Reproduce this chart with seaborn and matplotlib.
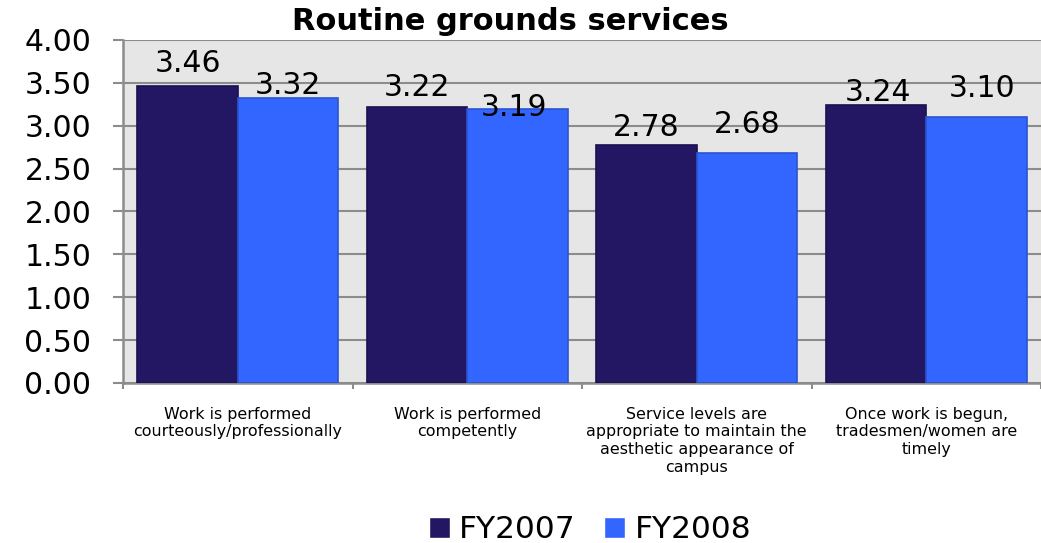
import matplotlib
matplotlib.use("Agg")
import matplotlib.pyplot as plt
import seaborn as sns
import pandas as pd
from matplotlib.ticker import FixedLocator

# Survey categories and mean ratings per fiscal year
categories = [
    "Work is performed\ncourteously/professionally",
    "Work is performed\ncompetently",
    "Service levels are\nappropriate to maintain the\naesthetic appearance of\ncampus",
    "Once work is begun,\ntradesmen/women are\ntimely",
]
fy2007 = [3.46, 3.22, 2.78, 3.24]
fy2008 = [3.32, 3.19, 2.68, 3.10]
series_names = ["FY2007", "FY2008"]
y_ticks = [0.0, 0.5, 1.0, 1.5, 2.0, 2.5, 3.0, 3.5, 4.0]

# Value label nudges (pixels) for each series
label_nudge_2007 = [(0, 23), (0, 19), (0, 17), (2, 13)]
label_nudge_2008 = [(0, 13), (-3, 2), (0, 29), (6, 29)]

colors = {"FY2007": "#231763", "FY2008": "#3366FF"}
edges = {"FY2007": "#1a1050", "FY2008": "#2a55d0"}

df = pd.DataFrame({
    "category": categories * 2,
    "score": fy2007 + fy2008,
    "year": [series_names[0]] * len(categories) + [series_names[1]] * len(categories),
})

sns.set_theme(style="white")
plt.rcParams["font.family"] = ["DejaVu Sans"]
plt.rcParams["text.color"] = "black"
plt.rcParams["xtick.labelcolor"] = "black"
plt.rcParams["ytick.labelcolor"] = "black"

W, H = 1041, 543
fig = plt.figure(figsize=(W / 100, H / 100), dpi=100)
ax = fig.add_axes([123 / W, (H - 383) / H, (W - 123) / W, 343 / H])
ax.set_facecolor("#E6E6E6")

sns.barplot(data=df, x="category", y="score", hue="year", order=categories,
            hue_order=series_names, palette=colors, width=0.875, gap=0,
            saturation=1, ax=ax, zorder=3)

for cont, name in zip(ax.containers, series_names):
    for patch in cont:
        patch.set_edgecolor(edges[name])
        patch.set_linewidth(1.2)

# Value labels
for cont, vals, nudges in zip(ax.containers, [fy2007, fy2008],
                              [label_nudge_2007, label_nudge_2008]):
    for patch, v, (dx, dy) in zip(cont, vals, nudges):
        cx = patch.get_x() + patch.get_width() / 2
        ax.annotate(f"{v:.2f}", xy=(cx, v), xytext=(dx, dy),
                    textcoords="offset pixels", ha="center", va="center",
                    fontsize=21.5, color="black", zorder=5)

ax.set_ylim(0, 4.0)
ax.set_xlim(-0.5, len(categories) - 0.5)
ax.yaxis.set_major_locator(FixedLocator(y_ticks))
ax.set_yticklabels([f"{t:.2f}" for t in y_ticks])
ax.grid(axis="y", color="#8c8c8c", linewidth=1.5, zorder=1)
ax.set_axisbelow(True)
ax.set_xlabel("")
ax.set_ylabel("")

for side in ["top", "right"]:
    ax.spines[side].set_visible(False)
for side in ["left", "bottom"]:
    ax.spines[side].set_color("#8c8c8c")
    ax.spines[side].set_linewidth(1.8)

ax.tick_params(axis="y", which="major", length=7.2, width=1.5, color="#8c8c8c",
               direction="out", pad=15.5, labelsize=21.5, left=True,
               labelcolor="black")
ax.tick_params(axis="x", which="major", length=0, pad=17, labelsize=11.4,
               labelcolor="black")
ax.xaxis.set_minor_locator(FixedLocator([i - 0.5 for i in range(len(categories) + 1)]))
ax.tick_params(axis="x", which="minor", length=4, width=1.5, color="#8c8c8c",
               direction="out", bottom=True)
for lab in ax.get_xticklabels():
    lab.set_linespacing(1.23)
    lab.set_multialignment("center")

# Legend below the plot
handles, labels = ax.get_legend_handles_labels()
ax.get_legend().remove()
leg = fig.legend(handles, labels, loc="center", bbox_to_anchor=(590 / W, 13 / H),
                 ncol=2, frameon=False, fontsize=22.5, handlelength=0.68,
                 handleheight=0.68, handletextpad=0.3, columnspacing=0.9)
for t in leg.get_texts():
    t.set_color("black")

fig.text(510 / W, 1 - 22 / H, "Routine grounds services", ha="center",
         va="center", fontsize=22, fontweight="bold", color="black")

fig.savefig("out.png", dpi=100)
